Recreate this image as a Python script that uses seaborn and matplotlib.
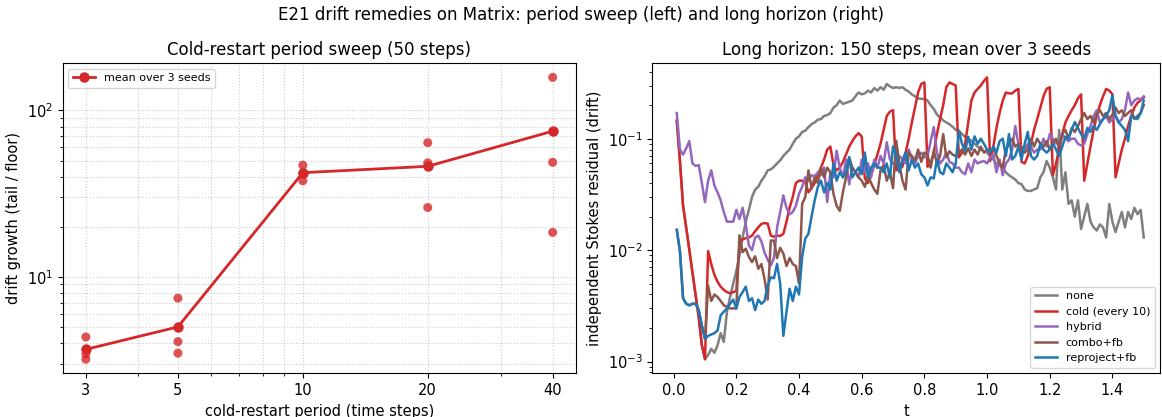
import numpy as np
import pandas as pd
import matplotlib
matplotlib.use("Agg")
import matplotlib.pyplot as plt
import seaborn as sns
from matplotlib.ticker import FixedLocator, FixedFormatter, NullFormatter

# ---------------- left panel data ----------------
periods = [3, 5, 10, 20, 40]
seed_a = [4.35, 7.45, 46.9, 64.0, 158.0]
seed_b = [3.45, 4.08, 42.1, 48.4, 48.8]
seed_c = [3.20, 3.48, 37.8, 26.1, 18.5]

# ---------------- right panel data ----------------
t_vals = [round(0.01 * i, 2) for i in range(1, 151)]

none_vals = [
    0.145, 0.063, 0.025, 0.016, 0.010, 0.0063, 0.0040, 0.0025, 0.0014, 0.00105,
    0.00115, 0.0013, 0.0012, 0.0014, 0.0018, 0.0015, 0.0028, 0.0038, 0.0050, 0.0065,
    0.009, 0.013, 0.018, 0.023, 0.030, 0.035, 0.037, 0.042, 0.046, 0.052,
    0.053, 0.056, 0.060, 0.064, 0.070, 0.075, 0.080, 0.090, 0.100, 0.105,
    0.115, 0.118, 0.127, 0.135, 0.140, 0.148, 0.150, 0.160, 0.163, 0.170,
    0.190, 0.200, 0.220, 0.205, 0.210, 0.215, 0.220, 0.240, 0.260, 0.250,
    0.255, 0.270, 0.260, 0.285, 0.270, 0.290, 0.275, 0.310, 0.295, 0.285,
    0.290, 0.285, 0.290, 0.275, 0.265, 0.250, 0.240, 0.230, 0.228, 0.228,
    0.220, 0.200, 0.185, 0.165, 0.155, 0.146, 0.140, 0.135, 0.128, 0.120,
    0.118, 0.110, 0.104, 0.100, 0.096, 0.090, 0.085, 0.080, 0.077, 0.075,
    0.070, 0.065, 0.060, 0.058, 0.054, 0.050, 0.047, 0.045, 0.043, 0.040,
    0.039, 0.035, 0.034, 0.034, 0.035, 0.036, 0.045, 0.050, 0.063, 0.055,
    0.045, 0.035, 0.120, 0.035, 0.050, 0.026, 0.028, 0.020, 0.028, 0.0155,
    0.020, 0.026, 0.018, 0.016, 0.015, 0.017, 0.016, 0.013, 0.026, 0.018,
    0.0145, 0.018, 0.022, 0.016, 0.022, 0.019, 0.024, 0.021, 0.023, 0.013,
]

cold_vals = [
    0.145, 0.063, 0.025, 0.016, 0.010, 0.0063, 0.0040, 0.0025, 0.0014, 0.00105,
    0.0098, 0.0075, 0.0060, 0.0052, 0.0047, 0.0044, 0.0042, 0.0041, 0.0042, 0.0043,
    0.0115, 0.0125, 0.0128, 0.0130, 0.0135, 0.0148, 0.0160, 0.0172, 0.0175, 0.0173,
    0.0135, 0.0132, 0.0135, 0.0134, 0.0140, 0.018, 0.024, 0.030, 0.040, 0.042,
    0.042, 0.041, 0.033, 0.036, 0.040, 0.048, 0.055, 0.065, 0.080, 0.085,
    0.058, 0.052, 0.055, 0.062, 0.072, 0.085, 0.095, 0.105, 0.112, 0.105,
    0.044, 0.040, 0.047, 0.058, 0.072, 0.090, 0.120, 0.160, 0.175, 0.180,
    0.052, 0.054, 0.056, 0.075, 0.100, 0.140, 0.190, 0.260, 0.310, 0.320,
    0.056, 0.060, 0.075, 0.110, 0.150, 0.200, 0.290, 0.320, 0.310, 0.300,
    0.068, 0.075, 0.090, 0.140, 0.220, 0.260, 0.280, 0.300, 0.330, 0.355,
    0.063, 0.085, 0.125, 0.170, 0.220, 0.260, 0.255, 0.255, 0.270, 0.280,
    0.062, 0.060, 0.070, 0.090, 0.120, 0.150, 0.190, 0.240, 0.280, 0.290,
    0.047, 0.060, 0.080, 0.110, 0.140, 0.160, 0.180, 0.200, 0.230, 0.250,
    0.042, 0.060, 0.085, 0.120, 0.160, 0.200, 0.240, 0.280, 0.270, 0.250,
    0.045, 0.060, 0.080, 0.100, 0.130, 0.160, 0.190, 0.210, 0.220, 0.235,
]

hybrid_vals = [
    0.170, 0.080, 0.072, 0.082, 0.095, 0.060, 0.057, 0.058, 0.040, 0.027,
    0.042, 0.052, 0.038, 0.033, 0.028, 0.022, 0.018, 0.018, 0.018, 0.023,
    0.019, 0.024, 0.017, 0.011, 0.010, 0.013, 0.0135, 0.012, 0.0095, 0.0082,
    0.0073, 0.0085, 0.016, 0.022, 0.031, 0.024, 0.021, 0.022, 0.025, 0.032,
    0.037, 0.045, 0.042, 0.047, 0.046, 0.050, 0.047, 0.055, 0.027, 0.050,
    0.045, 0.078, 0.055, 0.045, 0.065, 0.039, 0.055, 0.050, 0.045, 0.065,
    0.050, 0.060, 0.045, 0.065, 0.055, 0.070, 0.060, 0.093, 0.065, 0.060,
    0.060, 0.070, 0.065, 0.060, 0.080, 0.065, 0.060, 0.070, 0.075, 0.068,
    0.070, 0.095, 0.127, 0.075, 0.060, 0.065, 0.075, 0.062, 0.060, 0.055,
    0.055, 0.050, 0.048, 0.060, 0.050, 0.065, 0.060, 0.062, 0.063, 0.060,
    0.068, 0.072, 0.050, 0.065, 0.047, 0.060, 0.065, 0.080, 0.130, 0.090,
    0.085, 0.080, 0.090, 0.085, 0.075, 0.080, 0.080, 0.100, 0.085, 0.110,
    0.100, 0.090, 0.095, 0.110, 0.100, 0.095, 0.100, 0.100, 0.090, 0.087,
    0.090, 0.110, 0.130, 0.160, 0.180, 0.140, 0.150, 0.160, 0.140, 0.150,
    0.160, 0.140, 0.150, 0.180, 0.260, 0.200, 0.220, 0.230, 0.225, 0.240,
]

combo_vals = [
    0.0152, 0.0098, 0.0037, 0.0033, 0.0032, 0.0033, 0.0033, 0.0029, 0.0021, 0.0016,
    0.0048, 0.0035, 0.0040, 0.0038, 0.0035, 0.0032, 0.0031, 0.0030, 0.0030, 0.0030,
    0.0136, 0.0096, 0.0103, 0.0087, 0.0078, 0.0088, 0.0068, 0.0075, 0.0055, 0.0036,
    0.0122, 0.0122, 0.0085, 0.0105, 0.0093, 0.0072, 0.0085, 0.0075, 0.0072, 0.0050,
    0.026, 0.030, 0.052, 0.036, 0.045, 0.040, 0.055, 0.045, 0.055, 0.050,
    0.032, 0.025, 0.0225, 0.033, 0.045, 0.068, 0.055, 0.050, 0.045, 0.042,
    0.037, 0.047, 0.040, 0.035, 0.032, 0.052, 0.058, 0.042, 0.050, 0.036,
    0.096, 0.060, 0.042, 0.035, 0.075, 0.070, 0.064, 0.080, 0.062, 0.075,
    0.072, 0.055, 0.078, 0.060, 0.070, 0.110, 0.068, 0.077, 0.072, 0.070,
    0.075, 0.080, 0.072, 0.082, 0.070, 0.080, 0.072, 0.085, 0.075, 0.080,
    0.078, 0.082, 0.070, 0.060, 0.055, 0.080, 0.090, 0.100, 0.085, 0.090,
    0.083, 0.075, 0.080, 0.100, 0.085, 0.100, 0.090, 0.085, 0.095, 0.080,
    0.090, 0.100, 0.085, 0.110, 0.120, 0.100, 0.125, 0.115, 0.130, 0.150,
    0.170, 0.150, 0.160, 0.140, 0.165, 0.180, 0.160, 0.170, 0.150, 0.165,
    0.190, 0.170, 0.180, 0.160, 0.170, 0.180, 0.150, 0.160, 0.170, 0.200,
]

reproject_vals = [
    0.0152, 0.0098, 0.0037, 0.0033, 0.0032, 0.0033, 0.0033, 0.0029, 0.0021, 0.0016,
    0.0017, 0.00175, 0.0018, 0.0019, 0.0026, 0.0028, 0.0030, 0.0033, 0.0036, 0.0030,
    0.0038, 0.0042, 0.0047, 0.0035, 0.0037, 0.0029, 0.0036, 0.0033, 0.0035, 0.0048,
    0.0057, 0.0056, 0.0075, 0.0050, 0.0017, 0.0028, 0.0045, 0.0035, 0.0047, 0.0040,
    0.0087, 0.0127, 0.014, 0.020, 0.028, 0.037, 0.042, 0.033, 0.040, 0.035,
    0.060, 0.042, 0.050, 0.045, 0.050, 0.068, 0.045, 0.050, 0.055, 0.048,
    0.075, 0.045, 0.055, 0.060, 0.055, 0.055, 0.050, 0.060, 0.045, 0.085,
    0.070, 0.050, 0.064, 0.075, 0.052, 0.065, 0.055, 0.060, 0.048, 0.045,
    0.038, 0.045, 0.044, 0.065, 0.050, 0.048, 0.060, 0.055, 0.050, 0.060,
    0.118, 0.090, 0.078, 0.104, 0.080, 0.105, 0.090, 0.100, 0.090, 0.080,
    0.075, 0.085, 0.075, 0.095, 0.100, 0.070, 0.110, 0.065, 0.070, 0.085,
    0.065, 0.090, 0.115, 0.070, 0.065, 0.070, 0.090, 0.080, 0.075, 0.080,
    0.090, 0.080, 0.070, 0.085, 0.104, 0.100, 0.120, 0.141, 0.125, 0.110,
    0.100, 0.125, 0.115, 0.130, 0.120, 0.135, 0.150, 0.160, 0.180, 0.245,
    0.160, 0.140, 0.130, 0.120, 0.095, 0.160, 0.155, 0.150, 0.170, 0.220,
]

methods = ["none", "cold (every 10)", "hybrid", "combo+fb", "reproject+fb"]
colors = ["#7f7f7f", "#d62728", "#9467bd", "#8c564b", "#1f77b4"]

# ---------------- tables ----------------
seeds_df = pd.DataFrame({
    "period": periods * 3,
    "growth": seed_a + seed_b + seed_c,
})
mean_df = pd.DataFrame({
    "period": periods,
    "growth": np.mean([seed_a, seed_b, seed_c], axis=0),
})

series = [none_vals, cold_vals, hybrid_vals, combo_vals, reproject_vals]
long_df = pd.concat(
    [pd.DataFrame({"t": t_vals, "drift": vals, "method": m}) for m, vals in zip(methods, series)],
    ignore_index=True,
)

plt.rcParams["font.family"] = ["DejaVu Sans"]

fig = plt.figure(figsize=(11.62, 4.17), dpi=100)
ax1 = fig.add_axes([0.0538, 0.1048, 0.4419, 0.7434])
ax2 = fig.add_axes([0.5614, 0.1048, 0.4372, 0.7434])

# ---------- left ----------
sns.scatterplot(data=seeds_df, x="period", y="growth", ax=ax1, color="#d62728",
                alpha=0.8, s=42, edgecolor="none", legend=False, zorder=3)
sns.lineplot(data=mean_df, x="period", y="growth", ax=ax1, color="#d62728",
             marker="o", markersize=7.5, markeredgewidth=0, linewidth=2,
             label="mean over 3 seeds", zorder=4)
ax1.set_xscale("log")
ax1.set_yscale("log")
ax1.xaxis.set_major_locator(FixedLocator(periods))
ax1.xaxis.set_major_formatter(FixedFormatter([str(p) for p in periods]))
ax1.xaxis.set_minor_formatter(NullFormatter())
ax1.grid(True, which="both", linestyle=":", color="#cccccc", linewidth=0.8)
ax1.set_axisbelow(True)
ax1.set_xlabel("cold-restart period (time steps)", fontsize=10.5)
ax1.set_ylabel("drift growth (tail / floor)", fontsize=10.5)
ax1.set_title("Cold-restart period sweep (50 steps)", fontsize=12)
ax1.tick_params(labelsize=10.5)
ax1.legend(loc="upper left", fontsize=8)

# ---------- right ----------
sns.lineplot(data=long_df, x="t", y="drift", hue="method", hue_order=methods,
             palette=dict(zip(methods, colors)), ax=ax2, linewidth=1.8,
             estimator=None, sort=False)
ax2.set_yscale("log")
ax2.set_xlim(-0.068, 1.553)
ax2.set_xlabel("t", fontsize=10.5)
ax2.set_ylabel("independent Stokes residual (drift)", fontsize=10.5)
ax2.set_title("Long horizon: 150 steps, mean over 3 seeds", fontsize=12)
ax2.tick_params(labelsize=10.5)
ax2.legend(loc="lower right", fontsize=8, title=None)

fig.suptitle("E21 drift remedies on Matrix: period sweep (left) and long horizon (right)",
             fontsize=12, y=0.985)

fig.savefig("out.png", dpi=100)
